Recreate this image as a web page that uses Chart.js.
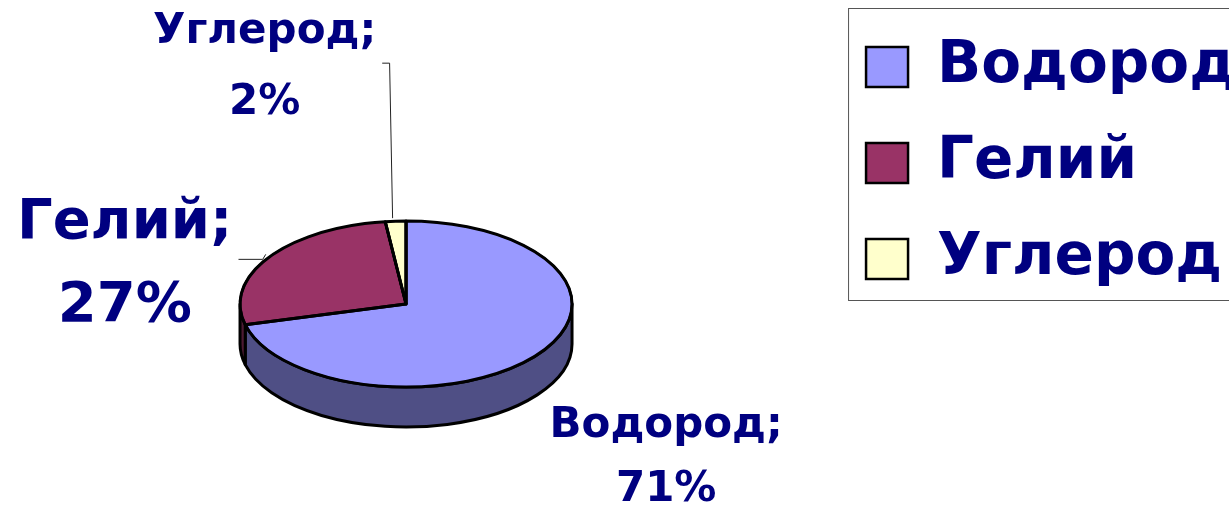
<!DOCTYPE html>
<html lang="ru">
<head>
    <meta charset="UTF-8">
    <title>Состав</title>
    <script src="https://cdn.jsdelivr.net/npm/chart.js"></script>
    <style>
        html, body { margin: 0; padding: 0; background: #fff; }
        #frame { width: 1229px; height: 510px; position: relative; overflow: hidden; }
        /* холст чуть больше окна: центр пирога и легенда встают как в оригинале */
        #wrap { width: 1262px; height: 608px; position: absolute; left: -16px; top: 0; }
    </style>
</head>
<body>
    <div id="frame"><div id="wrap"><canvas id="pieChart"></canvas></div></div>

    <script>
        // Данные
        const elements = ['Водород', 'Гелий', 'Углерод'];
        const shares = [71, 27, 2];
        const topColors = ['#9999FF', '#993366', '#FFFFCC'];
        const sideColors = ['#4F4F85', '#4D1A33', '#808066'];

        const NAVY = '#000080';
        const FONT = "'DejaVu Sans', Verdana, sans-serif";

        // Объёмный пирог: сжимаем круг в эллипс, рисуем боковую стенку и подписи
        const pie3d = {
            id: 'pie3d',
            beforeDatasetsDraw(chart, args, opts) {
                const arcs = chart.getDatasetMeta(0).data;
                if (!arcs.length) return;
                const ctx = chart.ctx;
                const {x: cx, y: cy, outerRadius: r} = arcs[0];
                const ry = r * opts.squash;

                ctx.save();
                ctx.lineWidth = opts.lineWidth;
                ctx.strokeStyle = '#000';
                ctx.lineJoin = 'round';
                arcs.forEach((arc, i) => {
                    const a0 = Math.max(arc.startAngle, 0);
                    const a1 = Math.min(arc.endAngle, Math.PI);
                    if (a1 <= a0) return;
                    ctx.beginPath();
                    ctx.ellipse(cx, cy, r, ry, 0, a0, a1);
                    ctx.ellipse(cx, cy + opts.depth, r, ry, 0, a1, a0, true);
                    ctx.closePath();
                    ctx.fillStyle = opts.sideColors[i];
                    ctx.fill();
                    ctx.stroke();
                });
                ctx.restore();

                ctx.save();
                ctx.translate(cx, cy);
                ctx.scale(1, opts.squash);
                ctx.translate(-cx, -cy);
            },
            afterDatasetsDraw(chart, args, opts) {
                const arcs = chart.getDatasetMeta(0).data;
                if (!arcs.length) return;
                const ctx = chart.ctx;
                ctx.restore();

                const {x: cx, y: cy, outerRadius: r} = arcs[0];
                const ry = r * opts.squash;

                // ровный контур верхней грани
                ctx.save();
                ctx.lineWidth = opts.lineWidth;
                ctx.strokeStyle = '#000';
                ctx.lineJoin = 'round';
                arcs.forEach(arc => {
                    ctx.beginPath();
                    ctx.moveTo(cx, cy);
                    ctx.ellipse(cx, cy, r, ry, 0, arc.startAngle, arc.endAngle);
                    ctx.closePath();
                    ctx.stroke();
                });
                ctx.restore();

                // подписи "Название; NN%"
                const values = chart.data.datasets[0].data;
                const total = values.reduce((a, b) => a + b, 0);
                ctx.save();
                ctx.fillStyle = NAVY;
                ctx.strokeStyle = '#222';
                ctx.lineWidth = 1;
                ctx.textAlign = 'center';
                ctx.textBaseline = 'alphabetic';
                arcs.forEach((arc, i) => {
                    const mid = (arc.startAngle + arc.endAngle) / 2;
                    const ax = cx + r * Math.cos(mid);
                    const ay = cy + ry * Math.sin(mid);
                    const lab = opts.labels[i];
                    const lx = ax + lab.dx;
                    const ly = ay + lab.dy;
                    const lines = [chart.data.labels[i] + ';', Math.round(values[i] / total * 100) + '%'];
                    const cap = lab.size * 0.73;
                    ctx.font = `bold ${lab.size}px ${FONT}`;
                    ctx.fillText(lines[0], lx, ly - lab.gap / 2 + cap / 2);
                    ctx.fillText(lines[1], lx, ly + lab.gap / 2 + cap / 2);

                    if (lab.leader) {
                        const w = Math.max(...lines.map(t => ctx.measureText(t).width));
                        ctx.beginPath();
                        ctx.moveTo(lx + w / 2 + 6, ly);
                        ctx.lineTo(ax - 6, ly);
                        ctx.lineTo(ax - 3, ay - 3);
                        ctx.stroke();
                    }
                });
                ctx.restore();
            }
        };

        // Рамка вокруг легенды
        const legendFrame = {
            id: 'legendFrame',
            afterDraw(chart, args, opts) {
                const hb = chart.legend && chart.legend.legendHitBoxes;
                if (!hb || !hb.length) return;
                const last = hb[hb.length - 1];
                const ctx = chart.ctx;
                const x = hb[0].left - opts.padX;
                const y = hb[0].top - opts.padTop;
                ctx.save();
                ctx.strokeStyle = opts.color;
                ctx.lineWidth = opts.width;
                ctx.strokeRect(x + 0.5, y + 0.5, chart.width - x + 10, last.top + last.height + opts.padBottom - y);
                ctx.restore();
            }
        };

        const ctx = document.getElementById('pieChart').getContext('2d');
        new Chart(ctx, {
            type: 'pie',
            data: {
                labels: elements,
                datasets: [{
                    data: shares,
                    backgroundColor: topColors,
                    borderColor: '#000',
                    borderWidth: 2.5,
                    radius: 166
                }]
            },
            options: {
                responsive: true,
                maintainAspectRatio: false,
                animation: false,
                events: [],
                plugins: {
                    tooltip: { enabled: false },
                    legend: {
                        position: 'right',
                        align: 'start',
                        labels: {
                            boxWidth: 42,
                            boxHeight: 40,
                            padding: 38,
                            color: NAVY,
                            font: { family: FONT, size: 58, weight: 'bold' }
                        }
                    },
                    pie3d: {
                        squash: 0.5,
                        depth: 40,
                        lineWidth: 3,
                        sideColors: sideColors,
                        labels: [
                            { dx: 129, dy: 99, size: 42, gap: 64, leader: false },
                            { dx: -144, dy: 2, size: 56, gap: 83, leader: true },
                            { dx: -131, dy: -158, size: 42, gap: 71, leader: true }
                        ]
                    },
                    legendFrame: { color: '#555', width: 1, padX: 18, padTop: 30, padBottom: 12 }
                }
            },
            plugins: [pie3d, legendFrame]
        });
    </script>
</body>
</html>
